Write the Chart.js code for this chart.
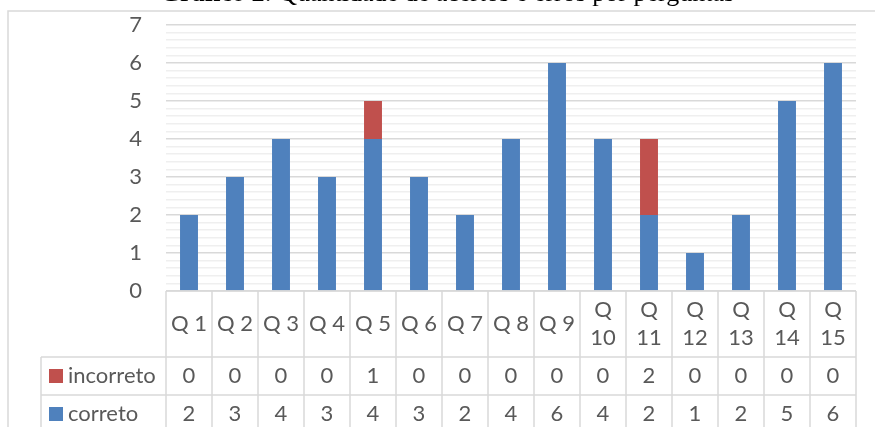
<!DOCTYPE html>
<html>
<head>
<meta charset="utf-8">
<script src="https://cdn.jsdelivr.net/npm/chart.js@4"></script>
<style>
  html, body { margin: 0; padding: 0; background: #ffffff; overflow: hidden; }
  #wrap { position: relative; width: 875px; height: 427px; overflow: hidden; }
  #title { position: absolute; left: 0; width: 894px; top: -20px; text-align: center;
           font-family: "Liberation Serif", "Times New Roman", serif; font-size: 26px; line-height: 1;
           color: #000; white-space: nowrap; z-index: 2; }
  canvas { position: absolute; left: 0; top: 0; }
</style>
</head>
<body>
<div id="wrap">
  <canvas id="c" width="875" height="427"></canvas>
  <div id="title"><b>Gráfico 2</b>: Quantidade de acertos e erros por perguntas</div>
</div>
<script>
const categories = ["Q 1","Q 2","Q 3","Q 4","Q 5","Q 6","Q 7","Q 8","Q 9","Q 10","Q 11","Q 12","Q 13","Q 14","Q 15"];
const correto    = [2,3,4,3,4,3,2,4,6,4,2,1,2,5,6];
const incorreto  = [0,0,0,0,1,0,0,0,0,0,2,0,0,0,0];
const seriesNames = ["incorreto","correto"];
const yTickMax = 7;

const BLUE = "#4F81BD", RED = "#C0504D", GRID = "#d9d9d9", MINOR = "#efefef", TEXT = "#595959";
const FONT = "Lato, 'Open Sans', sans-serif";
const FS = 22;

const isInt = v => Math.abs(v - Math.round(v)) < 1e-6;

const tablePlugin = {
  id: "tablePlugin",
  beforeDraw(chart) {
    const ctx = chart.ctx;
    ctx.save();
    ctx.strokeStyle = GRID;
    ctx.lineWidth = 1.5;
    ctx.beginPath();
    ctx.moveTo(8, 440); ctx.lineTo(8, 11); ctx.lineTo(880, 11);
    ctx.stroke();
    ctx.restore();
  },
  afterDraw(chart) {
    const ctx = chart.ctx;
    const xs = chart.scales.x;
    const area = chart.chartArea;
    const n = categories.length;
    const cw = (area.right - area.left) / n;
    const top = area.bottom;
    const hdrBottom = top + 66;
    const rowH = 38;
    const legLeft = 41;
    ctx.save();
    ctx.strokeStyle = GRID;
    ctx.lineWidth = 1.5;
    ctx.beginPath();
    ctx.moveTo(area.left, top); ctx.lineTo(area.right, top);
    for (let r = 0; r < 2; r++) {
      const y = hdrBottom + r * rowH;
      ctx.moveTo(legLeft, y); ctx.lineTo(area.right, y);
    }
    for (let i = 0; i <= n; i++) {
      const x = area.left + i * cw;
      ctx.moveTo(x, top); ctx.lineTo(x, 440);
    }
    ctx.moveTo(legLeft, hdrBottom); ctx.lineTo(legLeft, 440);
    ctx.stroke();

    ctx.fillStyle = TEXT;
    ctx.font = FS + "px " + FONT;
    ctx.textAlign = "center";
    ctx.textBaseline = "middle";
    const hdrMid = (top + hdrBottom) / 2;
    categories.forEach((lab, i) => {
      const cx = xs.getPixelForValue(i);
      if (ctx.measureText(lab).width > cw - 6) {
        const parts = lab.split(" ");
        ctx.fillText(parts[0], cx, hdrMid - 14);
        ctx.fillText(parts.slice(1).join(" "), cx, hdrMid + 14);
      } else {
        ctx.fillText(lab, cx, hdrMid);
      }
    });
    const rows = [incorreto, correto];
    const cols = [RED, BLUE];
    rows.forEach((vals, r) => {
      const cy = hdrBottom + r * rowH + rowH / 2;
      vals.forEach((v, i) => {
        ctx.fillStyle = TEXT;
        ctx.textAlign = "center";
        ctx.fillText(String(v), xs.getPixelForValue(i), cy);
      });
      ctx.fillStyle = cols[r];
      ctx.fillRect(49, cy - 7, 14, 14);
      ctx.fillStyle = TEXT;
      ctx.textAlign = "left";
      ctx.fillText(seriesNames[r], 68, cy);
    });
    ctx.restore();
  }
};

new Chart(document.getElementById("c"), {
  type: "bar",
  data: {
    labels: categories,
    datasets: [
      { label: "correto", data: correto, backgroundColor: BLUE, stack: "s", order: 1 },
      { label: "incorreto", data: incorreto, backgroundColor: RED, stack: "s", order: 2 }
    ]
  },
  options: {
    responsive: false,
    animation: false,
    devicePixelRatio: 1,
    layout: { padding: { top: 25, bottom: 136, right: 19, left: 0 } },
    datasets: { bar: { categoryPercentage: 1, barPercentage: 0.39 } },
    plugins: { legend: { display: false }, tooltip: { enabled: false }, title: { display: false } },
    scales: {
      x: { display: false, stacked: true },
      y: {
        stacked: true,
        min: 0, max: yTickMax,
        afterFit(s) { s.width = 166; },
        border: { display: false },
        grid: {
          drawTicks: true,
          tickLength: 24,
          tickColor: "rgba(0,0,0,0)",
          color: c => isInt(c.tick.value) ? GRID : MINOR,
          lineWidth: 1.5
        },
        ticks: {
          stepSize: 0.2,
          autoSkip: false,
          padding: 0,
          color: TEXT,
          font: { family: FONT, size: FS },
          callback: v => isInt(v) ? String(Math.round(v)) : ""
        }
      }
    }
  },
  plugins: [tablePlugin]
});
</script>
</body>
</html>
